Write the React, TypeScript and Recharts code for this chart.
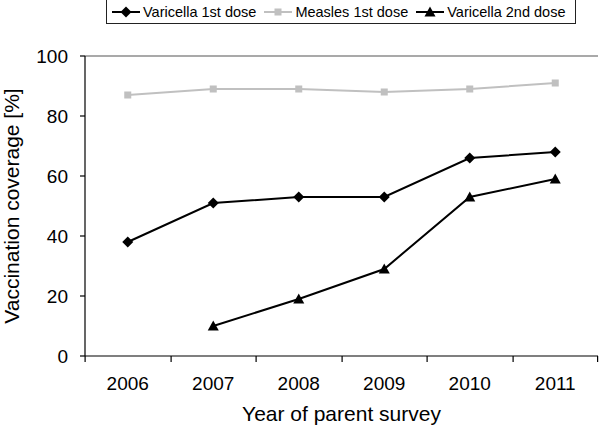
import React from 'react'
import { LineChart, Line, XAxis, YAxis, ReferenceLine, Legend } from 'recharts'

const years = ['2006', '2007', '2008', '2009', '2010', '2011']
const varicella1st = [38, 51, 53, 53, 66, 68]
const measles1st = [87, 89, 89, 88, 89, 91]
const varicella2nd: (number | null)[] = [null, 10, 19, 29, 53, 59]
const yTicks = [0, 20, 40, 60, 80, 100]
const seriesNames = ['Varicella 1st dose', 'Measles 1st dose', 'Varicella 2nd dose']

const data = years.map((year, i) => ({
  year,
  varicella1st: varicella1st[i],
  measles1st: measles1st[i],
  varicella2nd: varicella2nd[i],
}))

const BLACK = '#000'
const GREY = '#c0c0c0'
const X_TICK_SIZE = 5
const X_TICK_MARGIN = 16

function Diamond({ cx, cy, fill = BLACK, s = 5.5 }: any) {
  if (cx == null || cy == null) return <g />
  return <polygon points={`${cx},${cy - s} ${cx + s},${cy} ${cx},${cy + s} ${cx - s},${cy}`} fill={fill} />
}

function Square({ cx, cy, fill = GREY, s = 3.5 }: any) {
  if (cx == null || cy == null) return <g />
  return <rect x={cx - s} y={cy - s} width={s * 2} height={s * 2} fill={fill} />
}

function Triangle({ cx, cy, fill = BLACK, s = 5.5 }: any) {
  if (cx == null || cy == null) return <g />
  return <polygon points={`${cx},${cy - s} ${cx + s},${cy + s - 1} ${cx - s},${cy + s - 1}`} fill={fill} />
}

const markers = [Diamond, Square, Triangle]
const colors = [BLACK, GREY, BLACK]

// category label plus tick marks on the band boundaries (Excel style)
function XTick(props: any) {
  const { x, y, payload, index } = props
  const count = Number(props.visibleTicksCount) || years.length
  const axisWidth = Number(props.width) || 513
  const half = axisWidth / count / 2
  const top = Number(y) - X_TICK_SIZE - X_TICK_MARGIN
  const lx = Math.round(Number(x) - half)
  const rx = Math.round(Number(x) + half)
  return (
    <g className="x-tick">
      <rect x={lx - 0.5} y={top} width={1.2} height={X_TICK_SIZE + 1} fill={BLACK} />
      {index === count - 1 && <rect x={rx - 1} y={top} width={1.2} height={X_TICK_SIZE + 1} fill={BLACK} />}
      <text x={x} y={y} dy="0.71em" textAnchor="middle" fontSize={19} fill={BLACK}>
        {payload.value}
      </text>
    </g>
  )
}

function renderLegend() {
  return (
    <div
      style={{
        display: 'flex',
        alignItems: 'center',
        height: 25,
        border: '1px solid #222',
        background: '#fff',
        paddingLeft: 5,
        boxSizing: 'border-box',
        fontSize: 14.5,
        color: '#000',
      }}
    >
      {seriesNames.map((name, i) => {
        const M = markers[i]
        return (
          <div key={name} style={{ display: 'flex', alignItems: 'center', marginRight: 8 }}>
            <svg width={28} height={14} style={{ marginRight: 3 }}>
              <line x1={0} y1={7} x2={28} y2={7} stroke={colors[i]} strokeWidth={2} />
              <M cx={14} cy={7} />
            </svg>
            <span>{name}</span>
          </div>
        )
      })}
    </div>
  )
}

export default function App() {
  return (
    <div
      style={{
        position: 'absolute',
        left: 0,
        top: 0,
        width: 600,
        height: 426,
        background: '#fff',
        fontFamily: '"Liberation Sans", Arial, sans-serif',
      }}
    >
      <LineChart width={600} height={426} data={data} margin={{ top: 56, right: 2, bottom: 0, left: 0 }}>
        <XAxis
          xAxisId="main"
          dataKey="year"
          scale="band"
          height={70}
          tickLine={false}
          axisLine={{ stroke: BLACK, strokeWidth: 1.2 }}
          tickSize={X_TICK_SIZE}
          tickMargin={X_TICK_MARGIN}
          tick={(p: any) => <XTick key={`x${p.index}`} {...p} />}
          interval={0}
          label={{
            value: 'Year of parent survey',
            position: 'insideBottom',
            offset: 5,
            style: { fontSize: 21, fill: BLACK },
          }}
        />
        <YAxis
          yAxisId="l"
          width={85}
          domain={[0, 100]}
          ticks={yTicks}
          axisLine={{ stroke: BLACK, strokeWidth: 1.2 }}
          tickLine={{ stroke: BLACK, strokeWidth: 1.2 }}
          tickSize={5}
          tickMargin={12}
          tick={{ fontSize: 19, fill: BLACK }}
          label={{
            value: 'Vaccination coverage [%]',
            angle: -90,
            position: 'insideLeft',
            offset: 12,
            style: { textAnchor: 'middle', fontSize: 21, fill: BLACK },
          }}
        />
        <YAxis
          yAxisId="r"
          orientation="right"
          width={0}
          domain={[0, 100]}
          tick={false}
          tickLine={false}
          axisLine={{ stroke: BLACK, strokeWidth: 1.2 }}
        />
        <ReferenceLine yAxisId="l" xAxisId="main" y={100} stroke="#8c8c8c" strokeWidth={1.5} />
        <Legend
          layout="vertical"
          verticalAlign="middle"
          align="center"
          content={renderLegend}
          wrapperStyle={{ left: 106, top: -1, width: 470, height: 26 }}
        />
        <Line
          xAxisId="main"
          yAxisId="l"
          dataKey="measles1st"
          stroke={GREY}
          strokeWidth={2}
          dot={(p: any) => <Square key={`m${p.index}`} cx={p.cx} cy={p.cy} />}
          activeDot={false}
          isAnimationActive={false}
        />
        <Line
          xAxisId="main"
          yAxisId="l"
          dataKey="varicella1st"
          stroke={BLACK}
          strokeWidth={2}
          dot={(p: any) => <Diamond key={`d${p.index}`} cx={p.cx} cy={p.cy} />}
          activeDot={false}
          isAnimationActive={false}
        />
        <Line
          xAxisId="main"
          yAxisId="l"
          dataKey="varicella2nd"
          stroke={BLACK}
          strokeWidth={2}
          dot={(p: any) => <Triangle key={`t${p.index}`} cx={p.cx} cy={p.cy} />}
          activeDot={false}
          isAnimationActive={false}
        />
      </LineChart>
    </div>
  )
}
